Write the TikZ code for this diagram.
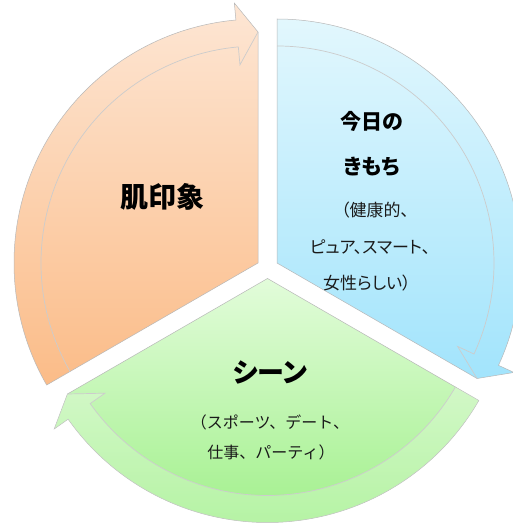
\documentclass[tikz,border=0pt]{standalone}
\usepackage{fontspec}
\setmainfont{Noto Sans CJK JP}[RawFeature=+palt]
\newfontfamily\fullcjk{Noto Sans CJK JP}
\definecolor{orTop}{HTML}{FDE6D4}
\definecolor{orBot}{HTML}{FBBC88}
\definecolor{blTop}{HTML}{E2F7FD}
\definecolor{blBot}{HTML}{A2E4FC}
\definecolor{grTop}{HTML}{E2FCDA}
\definecolor{grBot}{HTML}{A2F08C}
\definecolor{txt}{HTML}{1A1A1A}
\begin{document}
\begin{tikzpicture}[x=1pt,y=1pt,
  segout/.style={draw=black!28, line width=0.5pt},
  innerline/.style={draw=black!20, line width=0.7pt},
  bigtitle/.style={font=\bfseries\fontsize{28}{32}\selectfont, text=black},
  midtitle/.style={font=\bfseries\fontsize{21}{25}\selectfont, text=black},
  smalltext/.style={font=\fontsize{17}{21}\selectfont, text=txt},
  greentext/.style={font=\fullcjk\fontsize{16}{20}\selectfont, text=txt}]
\useasboundingbox (0,0) rectangle (512,528);
\fill[white] (0,0) rectangle (512,528);
% orange segment
\begin{scope}[shift={(258,265)}]
  \path[segout, top color=orTop, bottom color=orBot]
    (0,0) -- (210:244) arc[start angle=210,end angle=95.2,radius=244]
    -- (95.2:261) -- (90:231) -- cycle;
  \draw[innerline] (210:217) arc[start angle=210,end angle=95.2,radius=217]
    -- (95.2:199) -- (90:231);
\end{scope}
% blue segment
\begin{scope}[shift={(277,265)}]
  \path[segout, top color=blTop, bottom color=blBot]
    (0,0) -- (90:244) arc[start angle=90,end angle=-24.8,radius=244]
    -- (-24.8:261) -- (-30:231) -- cycle;
  \draw[innerline] (90:217) arc[start angle=90,end angle=-24.8,radius=217]
    -- (-24.8:199) -- (-30:231);
\end{scope}
% green segment
\begin{scope}[shift={(267.5,249.5)}]
  \path[segout, top color=grTop, bottom color=grBot]
    (0,0) -- (-30:244) arc[start angle=-30,end angle=-144.8,radius=244]
    -- (-144.8:261) -- (-150:231) -- cycle;
  \fill[white, opacity=0.22]
    (-30:217) -- (-30:244) arc[start angle=-30,end angle=-144.8,radius=244]
    -- (-144.8:261) -- (-150:231) -- (-144.8:199) -- (-144.8:217)
    arc[start angle=-144.8,end angle=-30,radius=217] -- cycle;
  \draw[innerline] (-30:217) arc[start angle=-30,end angle=-144.8,radius=217]
    -- (-144.8:199) -- (-150:231);
\end{scope}
% texts
\node[bigtitle] (hada) at (162,331) {肌印象};
\node[midtitle] (kyou) at (372,407) {今日の};
\node[midtitle] (kimochi) at (372,361) {きもち};
\node[smalltext] (b1) at (375,318) {（健康的、};
\node[smalltext] (b2) at (370,281) {ピュア、スマート、};
\node[smalltext] (b3) at (367,245) {女性らしい）};
\node[bigtitle, font=\bfseries\fontsize{27}{31}\selectfont] (scene) at (270,156) {シーン};
\node[greentext] (g1) at (270,106) {（スポーツ、デート、};
\node[greentext] (g2) at (271,76) {仕事、パーティ）};
\end{tikzpicture}
\end{document}
